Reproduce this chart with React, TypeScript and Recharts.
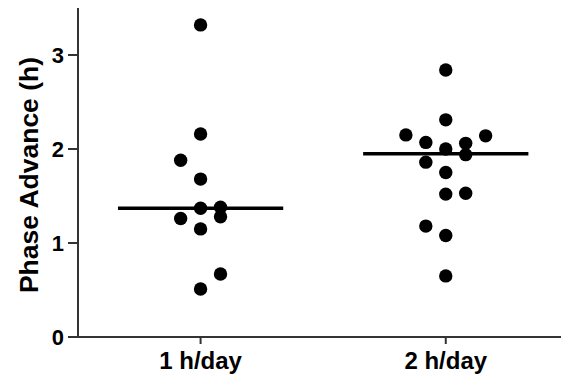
import { ScatterChart, Scatter, XAxis, YAxis, ReferenceLine } from 'recharts';

// group labels and where they sit on the x axis
const groups = ['1 h/day', '2 h/day'];
const groupX = [1, 2];

// phase advance (h) per animal, with the column slot each dot was nudged into
const values1h = [3.32, 2.16, 1.88, 1.68, 1.37, 1.38, 1.28, 1.26, 1.15, 0.67, 0.51];
const slots1h = [0, 0, -1, 0, 0, 1, 1, -1, 0, 1, 0];
const values2h = [2.84, 2.31, 2.15, 2.14, 2.07, 2.06, 2.0, 1.94, 1.86, 1.75, 1.52, 1.53, 1.18, 1.08, 0.65];
const slots2h = [0, 0, -2, 2, -1, 1, 0, 1, -1, 0, 0, 1, -1, 0, 0];

// median lines
const medians = [1.37, 1.95];

const yTicks = [0, 1, 2, 3];

const SLOT = 0.0813;
const HALF = 0.337;
const FONT = '"Liberation Sans", Arial, sans-serif';
const AXIS = '#333';

const build = (vals: number[], slots: number[], gx: number) =>
  vals.map((v, i) => ({ x: gx + slots[i] * SLOT, y: v }));

const data1 = build(values1h, slots1h, groupX[0]);
const data2 = build(values2h, slots2h, groupX[1]);

const Dot = (props: any) => <circle cx={props.cx} cy={props.cy} r={6.7} fill="#000" />;

const YLabel = () => (
  <text
    x={38}
    y={175}
    transform="rotate(-90 38 175)"
    textAnchor="middle"
    fontFamily={FONT}
    fontWeight="bold"
    fontSize={26.5}
    fill="#000"
  >
    Phase Advance (h)
  </text>
);

export default function App() {
  return (
    <div style={{ position: 'absolute', left: 0, top: 0, background: '#fff' }}>
      <ScatterChart width={561} height={384} margin={{ top: 8, right: 0, bottom: 0, left: 0 }}>
        <XAxis
          type="number"
          dataKey="x"
          domain={[0.5, 2.47]}
          ticks={groupX}
          allowDataOverflow
          tickFormatter={(v) => groups[groupX.indexOf(v)] ?? ''}
          height={47}
          stroke={AXIS}
          strokeWidth={2}
          tickSize={7}
          tickMargin={8}
          tick={{ fill: '#000', fontFamily: FONT, fontWeight: 'bold', fontSize: 24 }}
        />
        <YAxis
          type="number"
          dataKey="y"
          domain={[0, 3.5]}
          ticks={yTicks}
          allowDataOverflow
          width={78}
          stroke={AXIS}
          strokeWidth={2}
          tickSize={10}
          tickMargin={4}
          tick={{ fill: '#000', fontFamily: FONT, fontWeight: 'bold', fontSize: 22 }}
          label={{ content: () => <YLabel /> }}
        />
        <Scatter data={data1} shape={Dot} isAnimationActive={false} />
        <Scatter data={data2} shape={Dot} isAnimationActive={false} />
        {medians.map((m, i) => (
          <ReferenceLine
            key={i}
            segment={[
              { x: groupX[i] - HALF, y: m },
              { x: groupX[i] + HALF, y: m },
            ]}
            stroke="#000"
            strokeWidth={3.5}
          />
        ))}
      </ScatterChart>
    </div>
  );
}
